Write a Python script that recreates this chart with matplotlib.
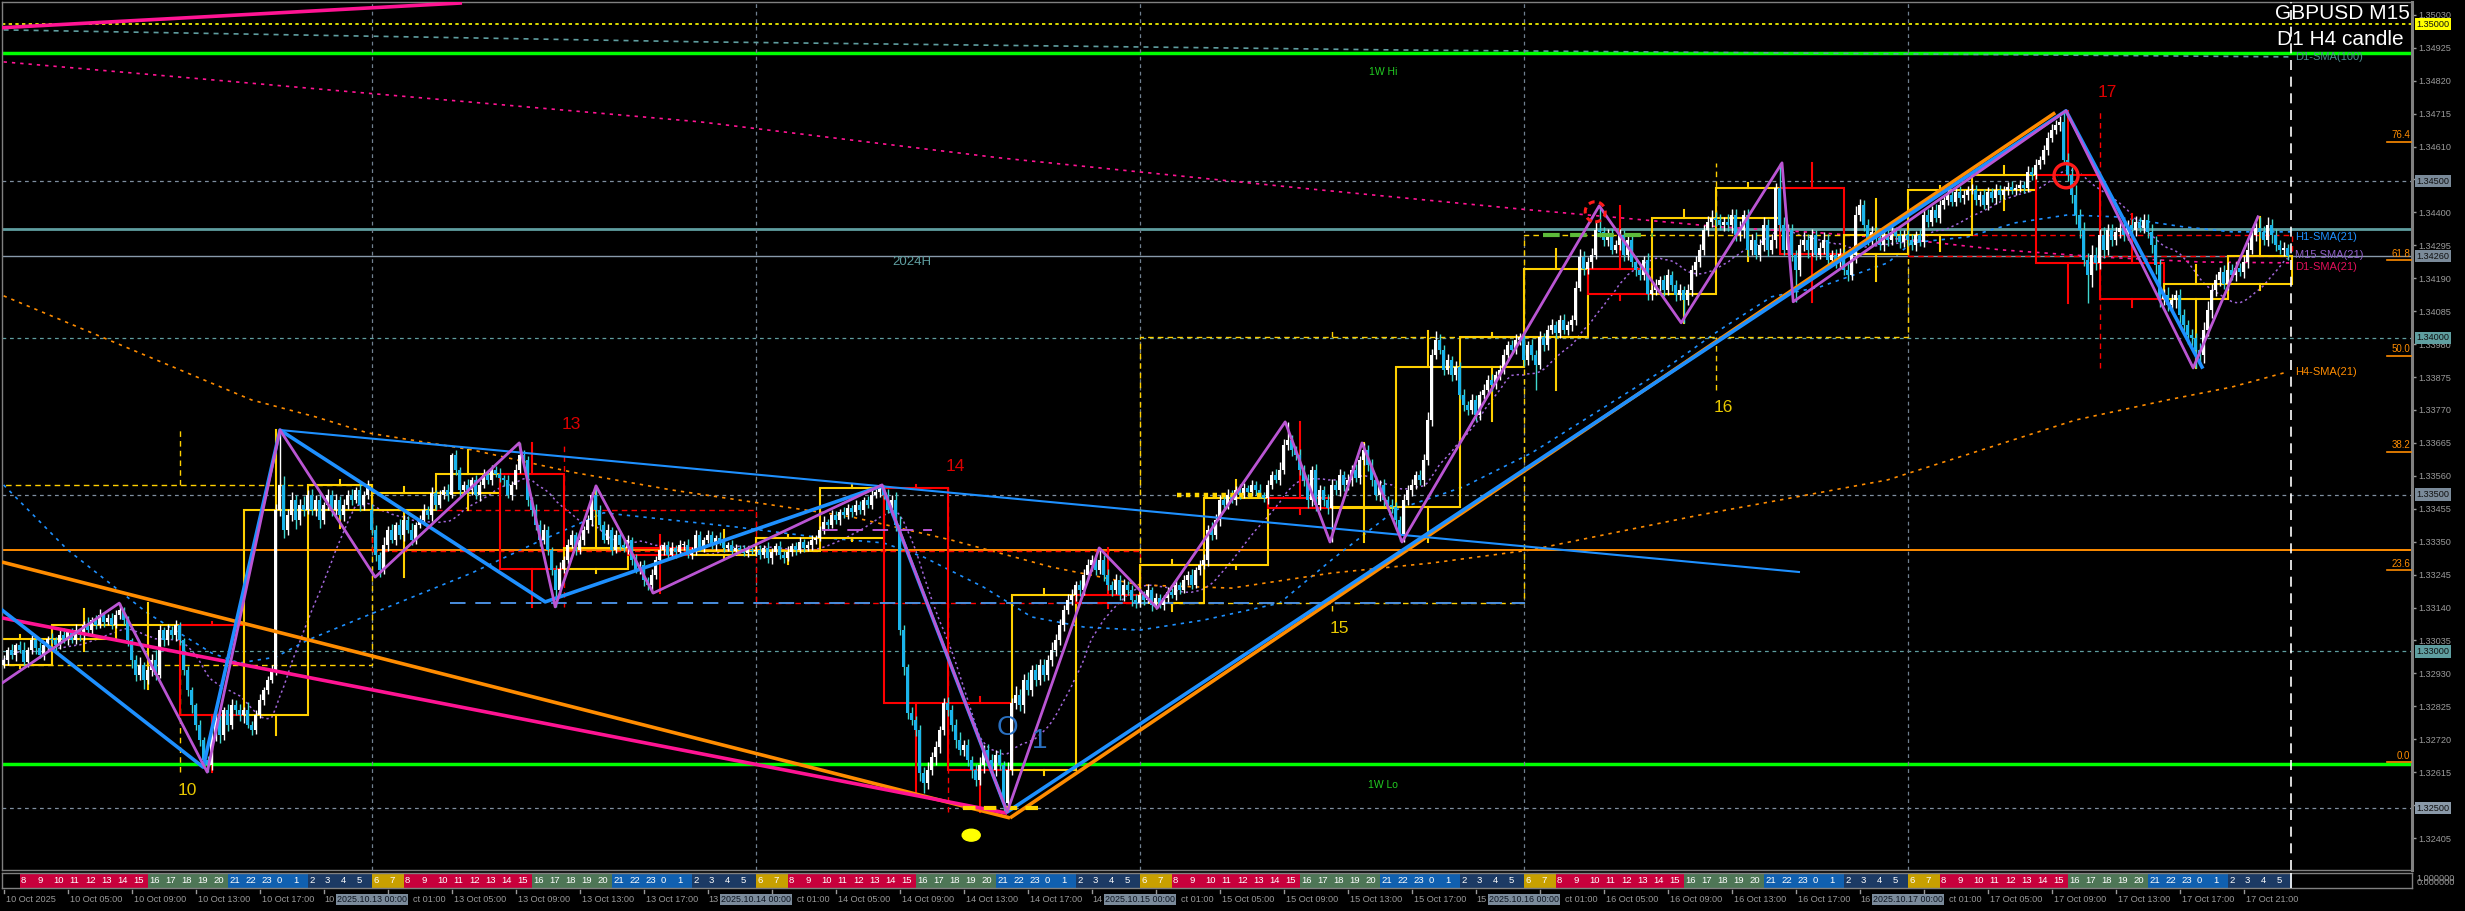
import numpy as np
import matplotlib
matplotlib.use("Agg")
import matplotlib.pyplot as plt
from matplotlib.patches import Rectangle, Ellipse
from matplotlib.transforms import blended_transform_factory

plt.rcParams["font.family"] = ["Liberation Sans", "DejaVu Sans"]

# prices are kept in points above 1.30000 (1 point = 0.00001)
BASE = 1.30
PT = 1e-5

# M15 closes, one list per trading day (10 Oct starts at 01:00 server time)
CLOSE_10 = [2973, 3005, 2989, 3020, 3005, 2966, 3005, 3036, 3011, 2989, 3020, 3040,
            3036, 3020, 3052, 3036, 3062, 3036, 3068, 3052,
            3084, 3068, 3100, 3084, 3116, 3094, 3106, 3084,
            3116, 3132, 3100, 3036,
            2973, 2925, 2957, 2909, 2941, 2973, 2925,
            3068, 3036, 3068, 3052, 3084, 3036,
            2941, 2877, 2829, 2765, 2717, 2654,
            2638, 2733, 2781, 2733, 2813, 2765, 2829,
            2813, 2797, 2813, 2765, 2749, 2797, 2845, 2877, 2909,
            2941, 3451, 3531,
            3387, 3435, 3483, 3419, 3467, 3451, 3499,
            3451, 3483, 3419, 3467, 3499, 3451, 3483, 3435, 3467,
            3499, 3483, 3515, 3467, 3499, 3531]
CLOSE_13 = [3387, 3308, 3260,
            3339, 3387, 3355, 3403, 3371, 3419, 3387, 3355, 3403, 3419,
            3451, 3435, 3505, 3467, 3499,
            3515, 3499, 3627, 3579, 3515,
            3531, 3515, 3547, 3499, 3531,
            3563, 3547, 3579, 3566, 3553,
            3547, 3499, 3531, 3579, 3627,
            3611, 3483, 3451,
            3403, 3355, 3387, 3324,
            3260, 3196, 3264,
            3292, 3339, 3371, 3324, 3355,
            3387, 3419, 3499, 3451, 3403,
            3355, 3387, 3324, 3371, 3339,
            3330,
            3355, 3292, 3260, 3276, 3228, 3212, 3244,
            3292, 3324, 3339, 3308, 3330, 3317, 3339,
            3339, 3308,
            3324, 3371, 3330, 3355, 3371, 3339, 3362, 3349,
            3330, 3339, 3320, 3330, 3324, 3315, 3324, 3320]
CLOSE_14 = [3324, 3308, 3330, 3298, 3317, 3336, 3308, 3298, 3317, 3336, 3324, 3349, 3330, 3339, 3355, 3362,
            3387, 3413, 3403, 3435, 3419, 3445, 3435, 3457, 3445, 3467, 3451, 3483, 3467, 3499, 3509, 3521,
            3499, 3451, 3483, 3403,
            3068, 2950, 2804,
            2781, 2749, 2612, 2580, 2622, 2663,
            2695, 2749, 2835,
            2813, 2765, 2717, 2686,
            2701, 2654, 2622, 2590, 2638, 2686, 2654, 2622, 2670, 2638,
            2516, 2622, 2835,
            2861, 2829, 2909, 2877, 2941, 2909, 2957, 2925, 2973, 3005,
            3036, 3084,
            3132, 3164, 3180, 3212, 3196,
            3244, 3276, 3292, 3260, 3292,
            3244, 3212, 3196, 3228, 3180, 3212, 3196, 3164, 3154]
CLOSE_15 = [3180, 3164, 3196, 3148, 3170, 3148,
            3170, 3189, 3180, 3212, 3196, 3228, 3244, 3212, 3260, 3276,
            3292, 3387, 3371, 3419, 3483, 3467, 3499, 3483,
            3515, 3499, 3521, 3509, 3531, 3515, 3499, 3489,
            3531, 3563,
            3547, 3579, 3658, 3674,
            3643, 3627, 3579,
            3547, 3483, 3579, 3467, 3515, 3483, 3457,
            3531,
            3515, 3563, 3531, 3547, 3579, 3553, 3611, 3643, 3595,
            3547, 3499, 3531, 3483, 3467, 3461,
            3419, 3371,
            3483, 3515, 3531, 3563, 3547,
            3611, 3738, 3946, 3993,
            3962, 3898, 3930, 3882, 3907,
            3818,
            3786, 3770, 3802, 3754, 3818,
            3834, 3866, 3850, 3882, 3898,
            3946, 3977, 3962, 3993, 4003]
CLOSE_16 = [3930, 3977, 3946, 3914, 4003, 3977,
            4025, 4041, 4016, 4057, 4025, 4041, 4057,
            4160, 4258, 4220,
            4242, 4265, 4344, 4338,
            4312, 4328, 4281, 4296, 4328, 4265, 4312, 4242,
            4217, 4201, 4249, 4140,
            4153, 4169,
            4185, 4153, 4201, 4169, 4137, 4153, 4121,
            4153, 4217, 4242, 4281,
            4344, 4370, 4383,
            4376, 4360, 4370,
            4360, 4392, 4328, 4344, 4392, 4281, 4312, 4265, 4296,
            4360, 4281, 4312, 4478, 4360, 4281,
            4344, 4265, 4217, 4296,
            4312, 4281, 4328, 4265, 4287, 4312, 4249, 4265,
            4242, 4268,
            4217, 4201, 4265,
            4392, 4424, 4360,
            4312, 4338, 4319, 4296, 4328, 4312, 4338, 4325, 4306, 4328]
CLOSE_17 = [4312, 4296, 4328, 4306,
            4392, 4370, 4408, 4383, 4424,
            4440, 4456, 4434, 4466, 4446,
            4456, 4472,
            4472, 4440, 4456, 4424,
            4466, 4446, 4472, 4456,
            4472, 4481, 4472, 4478, 4488, 4478, 4529,
            4520,
            4552, 4568, 4600,
            4638, 4663, 4679, 4689,
            4568, 4520,
            4456, 4392, 4344,
            4249, 4201, 4265, 4240,
            4328, 4281, 4344, 4312,
            4338, 4351, 4328, 4360, 4344,
            4370, 4351, 4376, 4338,
            4296, 4233, 4124,
            4137, 4105, 4121, 4137,
            4073, 4041, 4009, 4000,
            3962, 3946,
            4025, 4089,
            4153, 4185, 4211, 4172,
            4217, 4201, 4223, 4211, 4242,
            4281, 4328, 4351, 4338,
            4312, 4360, 4328, 4296,
            4281, 4287, 4262]

# upper / lower shadow lengths beyond the body, points
UP_10 = [15, 10, 20, 8, 12, 25, 10, 15, 8, 20, 12, 10, 18, 10, 15, 22, 10, 12, 20, 8,
         12, 25, 10, 15, 20, 8, 12, 18, 15, 22, 10, 12, 8, 15, 25, 10, 12, 20, 30,
         15, 10, 20, 12, 15, 10, 8, 12, 10, 8, 15, 10, 12, 20, 25, 15, 10, 18, 20,
         15, 20, 10, 25, 12, 15, 20, 10, 12, 15, 20, 175, 30, 20, 25, 15, 20, 30, 15,
         20, 15, 25, 10, 20, 15, 18, 12, 20, 15, 20, 10, 25, 12, 15]
DN_10 = [10, 15, 12, 20, 10, 8, 15, 12, 20, 10, 15, 12, 10, 20, 12, 8, 15, 10, 12, 20,
         15, 10, 20, 12, 8, 15, 10, 12, 10, 12, 15, 20, 25, 20, 15, 30, 12, 20, 15,
         10, 20, 15, 12, 20, 15, 15, 20, 25, 15, 20, 18, 23, 15, 20, 25, 15, 20, 12,
         15, 20, 25, 10, 15, 12, 10, 15, 12, 10, 15, 20, 25, 15, 20, 30, 15, 20, 12,
         15, 20, 25, 12, 15, 20, 15, 12, 18, 12, 15, 10, 20, 15, 12]
UP_13 = [20, 15, 10, 25, 12, 18, 10, 20, 15, 12, 22, 10, 15, 20, 12, 18, 10, 15, 12, 20, 5, 15, 10, 12,
         18, 10, 15, 12, 20, 10, 15, 12, 18, 10, 15, 12, 20, 38, 15, 12, 10, 18, 15, 20, 12, 10, 15, 20,
         12, 18, 15, 10, 20, 12, 15, 10, 29, 15, 12, 20, 10, 15, 12, 18, 15, 10, 20, 12, 15, 10, 18, 12,
         15, 10, 12, 18, 10, 15, 12, 20, 10, 15, 12, 10, 15, 12, 10, 18, 12, 10, 15, 12, 10, 15, 12, 10]
DN_13 = [15, 20, 23, 12, 18, 10, 15, 12, 20, 10, 15, 12, 10, 15, 12, 20, 15, 10, 12, 18, 10, 15, 20, 12,
         10, 15, 12, 18, 10, 12, 15, 10, 12, 18, 10, 15, 12, 10, 15, 20, 18, 15, 20, 12, 18, 15, 54, 20,
         15, 12, 10, 18, 12, 15, 10, 20, 12, 15, 10, 12, 18, 10, 15, 12, 20, 15, 10, 12, 18, 15, 26, 12,
         10, 15, 12, 10, 18, 12, 15, 10, 12, 15, 10, 12, 10, 12, 15, 10, 12, 10, 15, 12, 10, 12, 15, 10]
UP_14 = [12, 15, 10, 18, 12, 10, 15, 12, 18, 10, 12, 15, 10, 12, 15, 10, 12, 18, 10, 15, 12, 10, 15, 12,
         10, 15, 12, 10, 12, 15, 10, 12, 10, 20, 15, 25, 30, 15, 10, 20, 12, 15, 20, 25, 15, 20, 12, 18,
         20, 15, 18, 25, 15, 20, 12, 18, 25, 15, 20, 18, 15, 20, 12, 25, 15, 30, 18, 20, 25, 15, 20, 18,
         20, 15, 25, 18, 20, 15, 18, 20, 12, 15, 20, 18, 15, 20, 38, 15, 20, 12, 18, 15, 20, 12, 15, 18]
DN_14 = [15, 12, 10, 15, 18, 10, 12, 15, 10, 12, 15, 10, 12, 10, 15, 12, 10, 12, 15, 10, 12, 15, 10, 12,
         15, 10, 12, 15, 10, 12, 10, 15, 12, 10, 15, 20, 15, 25, 20, 15, 20, 25, 30, 20, 15, 25, 20, 15,
         18, 20, 25, 15, 20, 18, 25, 20, 15, 25, 20, 18, 20, 15, 28, 20, 15, 20, 18, 25, 15, 20, 18, 15,
         20, 15, 18, 20, 15, 18, 12, 15, 18, 20, 15, 12, 18, 15, 12, 20, 15, 18, 12, 15, 20, 15, 18, 15]
UP_15 = [15, 12, 18, 10, 15, 12, 10, 15, 12, 18, 10, 15, 12, 18, 10, 15, 20, 15, 25, 20, 15, 12, 20, 15,
         12, 18, 15, 10, 15, 12, 18, 10, 15, 12, 18, 25, 20, 58, 15, 12, 20, 15, 18, 12, 20, 15, 12, 18,
         20, 15, 18, 12, 20, 15, 18, 12, 22, 15, 18, 12, 15, 20, 12, 18, 15, 12, 18, 15, 20, 12, 15, 20,
         25, 20, 30, 18, 15, 20, 12, 18, 15, 20, 12, 18, 15, 12, 18, 15, 20, 12, 15, 18, 12, 15, 20, 12]
DN_15 = [12, 15, 10, 18, 12, 10, 15, 12, 10, 15, 12, 10, 15, 12, 10, 15, 12, 18, 15, 12, 20, 15, 12, 10,
         15, 12, 10, 18, 12, 15, 10, 12, 18, 12, 10, 15, 12, 15, 20, 18, 15, 20, 25, 18, 20, 15, 18, 20,
         108, 15, 20, 18, 15, 20, 12, 18, 15, 20, 18, 15, 20, 18, 15, 20, 25, 20, 22, 15, 18, 12, 15, 18,
         15, 20, 12, 15, 18, 12, 20, 15, 12, 18, 15, 12, 18, 15, 12, 15, 18, 12, 15, 12, 18, 15, 12, 15]
UP_16 = [15, 12, 18, 15, 20, 12, 15, 18, 12, 15, 18, 12, 15, 20, 25, 18, 15, 20, 25, 77, 15, 18, 20, 15,
         18, 15, 20, 12, 18, 15, 12, 20, 15, 18, 12, 15, 18, 12, 15, 20, 12, 18, 15, 20, 18, 15, 20, 25,
         18, 20, 15, 25, 18, 20, 30, 15, 20, 18, 25, 20, 25, 18, 20, 15, 80, 25, 20, 18, 15, 20, 25, 18,
         20, 15, 18, 25, 20, 15, 18, 20, 15, 25, 18, 30, 20, 15, 18, 20, 15, 18, 20, 15, 18, 15, 20, 15]
DN_16 = [20, 15, 18, 80, 12, 18, 15, 12, 18, 15, 12, 15, 18, 15, 12, 20, 15, 18, 12, 15, 20, 18, 15, 12,
         15, 20, 18, 15, 20, 18, 15, 20, 18, 15, 20, 18, 15, 20, 18, 15, 73, 15, 18, 20, 15, 18, 20, 15,
         18, 15, 20, 18, 25, 20, 18, 25, 20, 18, 15, 20, 18, 20, 15, 25, 20, 18, 15, 20, 102, 20, 18, 25,
         20, 18, 15, 20, 25, 18, 20, 15, 18, 20, 15, 25, 20, 18, 15, 20, 18, 15, 20, 18, 15, 20, 18, 15]
UP_17 = [15, 20, 12, 18, 15, 20, 12, 18, 15, 12, 18, 15, 12, 18, 15, 12, 18, 15, 12, 18, 15, 12, 18, 15,
         12, 15, 18, 12, 15, 12, 20, 15, 18, 12, 15, 18, 20, 15, 18, 35, 20, 25, 30, 20, 25, 20, 30, 25,
         20, 25, 18, 20, 15, 18, 20, 15, 18, 20, 15, 18, 20, 25, 30, 20, 18, 25, 20, 15, 20, 18, 15, 20,
         15, 20, 25, 30, 20, 18, 15, 20, 25, 18, 20, 15, 20, 25, 18, 20, 35, 20, 25, 18, 20, 15, 18, 12]
DN_17 = [18, 15, 20, 12, 15, 18, 12, 15, 18, 12, 15, 12, 15, 12, 18, 15, 12, 15, 18, 12, 15, 12, 18, 15,
         12, 15, 12, 18, 12, 15, 12, 18, 15, 12, 15, 18, 15, 12, 18, 15, 20, 25, 30, 25, 20, 90, 40, 25,
         20, 25, 18, 20, 15, 18, 20, 15, 18, 20, 15, 18, 20, 25, 30, 25, 20, 18, 20, 25, 30, 25, 30, 25,
         58, 30, 25, 20, 25, 18, 20, 15, 20, 18, 20, 15, 20, 18, 15, 20, 18, 15, 20, 25, 18, 15, 20, 15]

FIRST_OPEN = 2957
GAP_OPEN = {92: 3451}          # Monday open after the weekend gap

DAY_NAMES = ["10 Oct", "13 Oct", "14 Oct", "15 Oct", "16 Oct", "17 Oct"]
DAY_DATES = ["2025.10.10", "2025.10.13", "2025.10.14", "2025.10.15", "2025.10.16", "2025.10.17"]
DAY_TAGS = ["10", "13", "14", "15", "16", "17"]

# indicator curves: (bar index, points)
H1_SMA_BAR = [0, 16, 36, 52, 59, 68, 76, 90, 117, 133, 150, 167, 183, 203, 220, 230, 245, 257, 270, 284,
              300, 319, 332, 348, 365, 382, 415, 429, 442, 454, 471, 477, 491, 503, 516, 528, 545, 557, 572]
H1_SMA_PTS = [3531, 3324, 3122, 2995, 2963, 2982, 3036, 3110, 3250, 3346, 3442, 3419, 3397, 3365, 3346, 3301,
              3205, 3110, 3078, 3068, 3100, 3154, 3292, 3451, 3525, 3633, 3898, 4025, 4131, 4162, 4239, 4303,
              4322, 4367, 4392, 4386, 4354, 4338, 4338]
H4_SMA_BAR = [0, 62, 78, 91, 117, 142, 167, 189, 212, 237, 262, 284, 307, 332, 357, 382, 424, 471, 518, 541, 557, 570]
H4_SMA_PTS = [4134, 3802, 3748, 3697, 3643, 3572, 3515, 3473, 3429, 3355, 3269, 3212, 3202, 3250, 3282, 3324,
              3435, 3547, 3738, 3802, 3843, 3888]
D1_SMA21_BAR = [0, 174, 249, 324, 379, 404, 429, 454, 477, 499, 524, 549, 572]
D1_SMA21_PTS = [4880, 4689, 4574, 4478, 4411, 4383, 4354, 4335, 4312, 4281, 4258, 4242, 4239]
D1_SMA100_BAR = [0, 174, 349, 572]
D1_SMA100_PTS = [4982, 4944, 4918, 4896]

ZIGZAG_BAR = [-0.4, 28.9, 50.9, 69.1, 92.9, 128.9, 137.9, 148.1, 162.4, 219.6, 250.9, 273.9, 288.4,
              320.4, 331.6, 339.6, 349.6, 398.9, 419.4, 444.6, 447.4, 515.6, 547.4, 563.6]
ZIGZAG_PTS = [2899, 3154, 2615, 3706, 3237, 3665, 3142, 3528, 3186, 3531, 2488, 3330, 3138,
              3732, 3349, 3665, 3349, 4421, 4048, 4558, 4115, 4724, 3904, 4386]
SWING_BAR = [-0.4, 49.9, 69.1, 135.4, 219.6, 250.9, 515.6, 549.6]
SWING_PTS = [3132, 2631, 3706, 3158, 3528, 2488, 4724, 3907]

# trend lines: (bar0, pts0, bar1, pts1)
TRENDLINES = {
    "orange_down": (-0.4, 3285, 251.6, 2469),
    "orange_up": (251.6, 2469, 512.9, 4718),
    "pink_down": (-0.4, 3107, 250.9, 2484),
    "pink_top": (-0.4, 4989, 114.6, 5068),
    "blue_thin": (69.1, 3706, 449.1, 3253),
}

WEEK_HI = 1.34909
WEEK_LO = 1.32641
LEVEL_TEAL = 1.34347
BID = 1.34261
LEVEL_ORANGE = 1.33324
ROUND_GRAY = [1.34500, 1.33500, 1.32500]
ROUND_TEAL = [1.34000, 1.33000]
FIB_LOW, FIB_HIGH = 1.32647, 1.35237
FIB_LEVELS = [0.0, 23.6, 38.2, 50.0, 61.8, 76.4]
PRICE_TAGS = [(1.35000, "#ffff00"), (1.34500, "#7a8a99"), (1.34260, "#7a8a99"), (1.34000, "#5f9ea0"),
              (1.33500, "#7a8a99"), (1.33000, "#5f9ea0"), (1.32500, "#8a99a8")]

# ---------------------------------------------------------------- build OHLC
close_pts = np.array(CLOSE_10 + CLOSE_13 + CLOSE_14 + CLOSE_15 + CLOSE_16 + CLOSE_17, dtype=float)
up = np.array(UP_10 + UP_13 + UP_14 + UP_15 + UP_16 + UP_17, dtype=float)
dn = np.array(DN_10 + DN_13 + DN_14 + DN_15 + DN_16 + DN_17, dtype=float)
n = len(close_pts)
open_pts = np.concatenate([[FIRST_OPEN], close_pts[:-1]])
for k, v in GAP_OPEN.items():
    open_pts[k] = v
high_pts = np.maximum(open_pts, close_pts) + up
low_pts = np.minimum(open_pts, close_pts) - dn

o = BASE + open_pts * PT
c = BASE + close_pts * PT
h = BASE + high_pts * PT
l = BASE + low_pts * PT
idx = np.arange(n)

day_start = [-4] + [92 + 96 * d for d in range(5)]
day_of_bar = np.searchsorted(day_start, idx, side="right") - 1


def P(v):
    return BASE + np.asarray(v, dtype=float) * PT


# ---------------------------------------------------------------- figure
fig = plt.figure(figsize=(24.65, 9.11), dpi=100, facecolor="black")
W, H = 2465.0, 911.0
ax = fig.add_axes([2 / W, 1 - 870 / H, 2410 / W, 868 / H])
ax.set_facecolor("black")
XMIN, XMAX = -0.4, 602.1
ax.set_xlim(XMIN, XMAX)
ax.set_ylim(1.32303, 1.35071)
for s in ax.spines.values():
    s.set_color("#808080")
    s.set_linewidth(1)
ax.spines["right"].set_linewidth(2.2)

# price scale on the right
ticks = [1.32405 + 0.00105 * k for k in range(26)]
ax.yaxis.tick_right()
ax.set_yticks(ticks)
ax.set_yticklabels([f"{t:.5f}" for t in ticks])
ax.tick_params(axis="y", colors="#9a9a9a", labelsize=6.6, length=3, width=1, pad=1.5)
ax.set_xticks([])

# full width horizontal levels
ax.axhline(1.35000, color="#ffff00", lw=1.2, dashes=(2, 2), zorder=1)
for p in ROUND_GRAY:
    ax.axhline(p, color="#7f8fa0", lw=0.9, dashes=(3, 3), zorder=1)
for p in ROUND_TEAL:
    ax.axhline(p, color="#5f9ea0", lw=0.9, dashes=(3, 3), zorder=1)
ax.axhline(LEVEL_TEAL, color="#5f9ea0", lw=2, zorder=1)
ax.axhline(BID, color="#8899aa", lw=1, zorder=1)
ax.axhline(LEVEL_ORANGE, color="#ff8c00", lw=1.4, zorder=1)
ax.axhline(WEEK_HI, color="#00ff00", lw=2.5, zorder=1)
ax.axhline(WEEK_LO, color="#00ff00", lw=2.5, zorder=1)

# day separators
for ds in day_start[1:]:
    ax.axvline(ds, color="#708090", lw=0.9, dashes=(3, 3), zorder=1)

# moving averages
sma_m15 = np.cumsum(c) / np.arange(1, n + 1)
cs = np.cumsum(np.concatenate([[0], c]))
for i in range(21, n + 1):
    sma_m15[i - 1] = (cs[i] - cs[i - 21]) / 21
ax.plot(idx, sma_m15, color="#a066d8", lw=1.1, dashes=(1.5, 2), zorder=2)
ax.plot(H1_SMA_BAR, P(H1_SMA_PTS), color="#1e90ff", lw=1.2, dashes=(2, 3), zorder=2)
ax.plot(H4_SMA_BAR, P(H4_SMA_PTS), color="#ff8c00", lw=1.2, dashes=(2, 3), zorder=2)
ax.plot(D1_SMA21_BAR, P(D1_SMA21_PTS), color="#ff1493", lw=1.2, dashes=(2, 3), zorder=2)
ax.plot(D1_SMA100_BAR, P(D1_SMA100_PTS), color="#5f9ea0", lw=1.2, dashes=(3, 3), zorder=2)

# higher time-frame candles: H4 solid boxes, D1 dashed boxes
BULL_BOX, BEAR_BOX = "#ffd000", "#ff0000"


def draw_htf(groups, width, style, lw):
    for start, members in groups:
        go, gc = o[members[0]], c[members[-1]]
        gh, gl = h[members].max(), l[members].min()
        col = BULL_BOX if gc >= go else BEAR_BOX
        lo_, hi_ = min(go, gc), max(go, gc)
        ax.add_patch(Rectangle((start, lo_), width, hi_ - lo_, fill=False, edgecolor=col,
                               lw=lw, linestyle=style, zorder=2))
        mid = start + width / 2
        ax.plot([mid, mid], [hi_, gh], color=col, lw=lw, linestyle=style, zorder=2)
        ax.plot([mid, mid], [gl, lo_], color=col, lw=lw, linestyle=style, zorder=2)


h4_groups, d1_groups = [], []
for d, ds in enumerate(day_start):
    members_d = idx[day_of_bar == d]
    d1_groups.append((ds, members_d))
    for g in range(6):
        m = members_d[(members_d - ds) // 16 == g]
        if len(m):
            h4_groups.append((ds + 16 * g, m))
draw_htf(d1_groups, 96, (0, (4, 3)), 1.0)
draw_htf(h4_groups, 16, "-", 1.5)

# candles
bull = c >= o
body_lo = np.minimum(o, c)
body_h = np.maximum(np.abs(c - o), 0.00002)
ax.vlines(idx[bull], l[bull], h[bull], color="#ffffff", lw=1, zorder=3)
ax.vlines(idx[~bull], l[~bull], h[~bull], color="#40d8d0", lw=1, zorder=3)
ax.bar(idx[bull], body_h[bull], bottom=body_lo[bull], width=0.72, color="#ffffff", lw=0, zorder=3.1)
ax.bar(idx[~bull], body_h[~bull], bottom=body_lo[~bull], width=0.72, color="#1ab4ec", lw=0, zorder=3.1)

# trend lines and zigzags
def seg(key, color, lw):
    b0, p0, b1, p1 = TRENDLINES[key]
    ax.plot([b0, b1], P([p0, p1]), color=color, lw=lw, solid_capstyle="butt", zorder=4)


seg("orange_down", "#ff8c00", 2.6)
seg("orange_up", "#ff8c00", 2.6)
seg("pink_down", "#ff1493", 2.6)
seg("pink_top", "#ff1493", 2.6)
seg("blue_thin", "#1e90ff", 1.5)
ax.plot(SWING_BAR, P(SWING_PTS), color="#1e90ff", lw=2.6, zorder=4)
ax.plot(ZIGZAG_BAR, P(ZIGZAG_PTS), color="#ba55d3", lw=2.0, zorder=4.2)

# small marks
ax.plot([111.6, 380.3], P([3154, 3154]), color="#4a8ee0", lw=1.4, dashes=(8, 5), zorder=2)
ax.plot([204.6, 232.1], P([3387, 3387]), color="#ba55d3", lw=1.4, dashes=(8, 5), zorder=4)
ax.plot([384.9, 412.4], P([4328, 4328]), color="#5dbb3a", lw=3, dashes=(4, 2.5), zorder=4)
ax.plot([293.4, 314.9], P([3499, 3499]), color="#ffd700", lw=3.2, dashes=(1, 1), zorder=4)
ax.plot([239.9, 259.1], P([2500, 2500]), color="#ffd700", lw=3, dashes=(3, 2), zorder=4)
ax.add_patch(Ellipse((241.9, P(2414)), 4.5, 0.00038, color="#ffff00", zorder=4))
ax.add_patch(Ellipse((397.9, P(4402)), 5.0, 0.00064, fill=False, edgecolor="#ff1a1a",
                     lw=2.2, linestyle=(0, (2, 1.5)), zorder=5))
ax.add_patch(Ellipse((515.6, P(4517)), 6.0, 0.00077, fill=False, edgecolor="#ff1a1a", lw=2.4, zorder=5))
ax.text(250.9, P(2756), "O", color="#2a70c0", fontsize=20, ha="center", va="center", zorder=5)
ax.text(259.1, P(2714), "1", color="#2a70c0", fontsize=20, ha="center", va="center", zorder=5)
ax.plot([571.85, 571.85], [1.32303, 1.35071], color="#ffffff", lw=1.2, dashes=(6, 4), zorder=5)

# day number tags
for d, (ds, members_d) in enumerate(d1_groups):
    go, gc = o[members_d[0]], c[members_d[-1]]
    mid = ds + 48 + 2
    if gc >= go:
        ax.annotate(DAY_TAGS[d], (mid, l[members_d].min()), xytext=(0, -13), textcoords="offset points",
                    ha="center", va="center", color="#e8c800", fontsize=12.5, zorder=5)
    else:
        ax.annotate(DAY_TAGS[d], (mid, h[members_d].max()), xytext=(0, 13), textcoords="offset points",
                    ha="center", va="center", color="#dd0000", fontsize=12.5, zorder=5)

# level captions
ax.annotate("1W Hi", (344.8, WEEK_HI), xytext=(0, -14), textcoords="offset points", ha="center",
            va="center", color="#22cc22", fontsize=7.5)
ax.annotate("1W Lo", (344.8, WEEK_LO), xytext=(0, -15), textcoords="offset points", ha="center",
            va="center", color="#22cc22", fontsize=7.5)
ax.text(227.1, 1.34242, "2024H", color="#5f9ea0", fontsize=9.5, ha="center", va="center")

label_x = 572.8
ax.text(label_x, 1.34896, "D1-SMA(100)", color="#4f8e90", fontsize=8, va="center", zorder=1.5)
ax.text(label_x, 1.34322, "H1-SMA(21)", color="#1e90ff", fontsize=8, va="center")
ax.text(label_x, 1.34265, "M15 SMA(21)", color="#9060c8", fontsize=8, va="center")
ax.text(label_x, 1.34226, "D1-SMA(21)", color="#e0105a", fontsize=8, va="center")
ax.text(label_x, 1.33891, "H4-SMA(21)", color="#ff8c00", fontsize=8, va="center")

# fibonacci marks at the right edge
yx = blended_transform_factory(ax.transAxes, ax.transData)
for lv in FIB_LEVELS:
    p = FIB_LOW + (FIB_HIGH - FIB_LOW) * lv / 100
    ax.plot([0.9896, 0.9995], [p, p], color="#ff8c00", lw=1.2, transform=yx, zorder=5)
    ax.text(0.9992, p + 0.00005, f"{lv:.1f}", color="#ff8c00", fontsize=7, ha="right", va="bottom",
            transform=yx, zorder=5)

# price tags on the scale
for p, col in PRICE_TAGS:
    ax.text(1.0018, p, f"{p:.5f}", color="#101010", fontsize=6.6, ha="left", va="center", transform=yx,
            clip_on=False, zorder=6,
            bbox=dict(boxstyle="square,pad=0.18", facecolor=col, edgecolor="none"))

fig.text(2410 / W, 1 - 4 / H, "GBPUSD M15", color="white", fontsize=15, ha="right", va="top")
fig.text(2404 / W, 1 - 30 / H, "D1 H4 candle", color="white", fontsize=15, ha="right", va="top")

# ---------------------------------------------------------------- session band
ax2 = fig.add_axes([2 / W, 1 - 888 / H, 2410 / W, 15 / H])
ax2.set_facecolor("black")
ax2.set_xlim(XMIN, XMAX)
ax2.set_ylim(0, 1)
ax2.set_xticks([])
ax2.set_yticks([])
for s in ax2.spines.values():
    s.set_color("#808080")
    s.set_linewidth(1)


def session_color(hr):
    if hr in (6, 7):
        return "#c8a000"
    if 8 <= hr <= 15:
        return "#c8003c"
    if 16 <= hr <= 20:
        return "#4e7656"
    if hr >= 21 or hr <= 1:
        return "#1060b0"
    return "#1c3a64"


for d, ds in enumerate(day_start):
    for hr in range(24):
        s0 = ds + 4 * hr
        if s0 < 4:
            continue
        local = (hr + 6) % 24
        ax2.add_patch(Rectangle((s0, 0), 4, 1, facecolor=session_color(local), edgecolor="none"))
        ax2.text(s0 + 0.35, 0.5, str(local), color="white", fontsize=6.8, ha="left", va="center")
ax2.plot([571.85, 571.85], [0, 1], color="#ffffff", lw=1.2, zorder=5)
ax2.text(1.002, 0.62, "1.000000", color="#9a9a9a", fontsize=6.6, ha="left", va="center",
         transform=ax2.transAxes, clip_on=False)
ax2.text(1.002, 0.38, "0.000000", color="#9a9a9a", fontsize=6.6, ha="left", va="center",
         transform=ax2.transAxes, clip_on=False)

# time scale; the date boxes at each separator hide part of the neighbouring labels,
# so only the visible part of those labels is written
xt = ax2.get_xaxis_transform()
for d, ds in enumerate(day_start):
    for hr in (1, 5, 9, 13, 17, 21):
        b = ds + 4 * hr
        if b < 0:
            continue
        ax2.plot([b, b], [-0.1, -0.35], color="#9a9a9a", lw=1, transform=xt, clip_on=False)
        if b == 0:
            txt, bx = "10 Oct 2025", 0.6
        elif hr == 21 and d < len(day_start) - 1:
            txt, bx = DAY_NAMES[d][:2], 0.1
        elif hr == 1 and d > 0:
            txt, bx = "ct 01:00", 10.3 - 4
        else:
            txt, bx = f"{DAY_NAMES[d]} {hr:02d}:00", 0.5
        ax2.text(b + bx, -0.48, txt, color="#9a9a9a", fontsize=6.6, ha="left",
                 va="top", transform=xt, clip_on=False)
for d, ds in enumerate(day_start[1:], start=1):
    ax2.text(ds, -0.48, f"{DAY_DATES[d]} 00:00", color="#0c1420", fontsize=6.4, ha="center", va="top",
             transform=xt, clip_on=False, zorder=6,
             bbox=dict(boxstyle="square,pad=0.12", facecolor="#7b8b9b", edgecolor="none"))

fig.savefig("out.png", dpi=100, facecolor="black")
